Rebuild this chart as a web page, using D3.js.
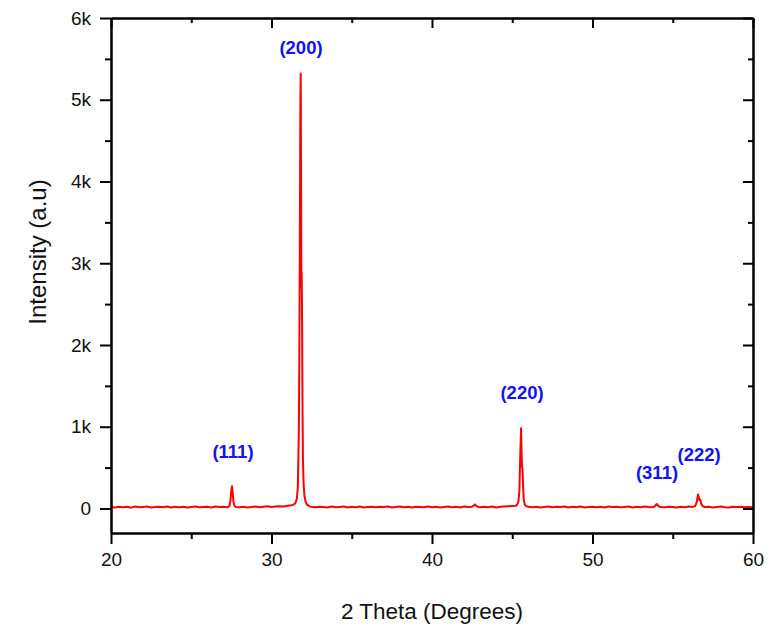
<!DOCTYPE html>
<html>
<head>
<meta charset="utf-8">
<script src="https://cdn.jsdelivr.net/npm/d3@7/dist/d3.min.js"></script>
<style>
  html, body { margin: 0; padding: 0; background: #ffffff; }
  svg { display: block; }
  text { font-family: "Liberation Sans", Arial, Helvetica, sans-serif; }
</style>
</head>
<body>
<svg id="chart" width="775" height="630"></svg>
<script>
// ---- data ----
const twoTheta = [
  20,20.25,20.5,20.75,21,21.25,21.5,21.75,22,22.25,22.5,22.75,23,23.25,23.5,23.75,24,24.25,24.5,24.75,
  25,25.25,25.5,25.75,26,26.25,26.5,26.75,27,27.25,
  27.3,27.38,27.44,27.5,27.54,27.58,27.63,27.7,27.8,
  28,28.25,28.5,28.75,29,29.25,29.5,29.75,30,30.25,30.5,30.75,31,31.25,
  31.4,31.5,31.58,31.64,31.7,31.73,31.76,31.8,31.82,31.84,31.86,31.88,31.9,31.93,31.96,32,32.05,32.12,32.2,32.3,32.4,
  32.5,32.75,33,33.25,33.5,33.75,34,34.25,34.5,34.75,35,35.25,35.5,35.75,36,36.25,36.5,36.75,37,37.25,
  37.5,37.75,38,38.25,38.5,38.75,39,39.25,39.5,39.75,40,40.25,40.5,40.75,41,41.25,41.5,41.75,42,42.25,
  42.5,42.6,42.68,42.76,42.9,
  43,43.25,43.5,43.75,44,44.25,44.5,44.75,45,
  45.2,45.3,45.38,45.44,45.5,45.55,45.58,45.61,45.64,45.68,45.72,45.78,45.85,46,
  46.25,46.5,46.75,47,47.25,47.5,47.75,48,48.25,48.5,48.75,49,49.25,49.5,49.75,50,50.25,50.5,50.75,51,
  51.25,51.5,51.75,52,52.25,52.5,52.75,53,53.25,53.5,53.75,
  53.9,54,54.08,54.2,
  54.5,54.75,55,55.25,55.5,55.75,56,56.25,
  56.4,56.5,56.57,56.62,56.67,56.72,56.77,56.85,57,
  57.25,57.5,57.75,58,58.25,58.5,58.75,59,59.25,59.5,59.75,60
];
const intensity = [
  18,12,22,15,20,10,25,14,19,23,12,17,21,15,24,11,20,16,22,13,
  19,25,14,18,21,12,23,17,20,15,
  18,30,90,230,272,200,80,30,17,
  16,22,13,19,24,15,20,26,18,23,28,25,32,40,
  50,70,120,260,900,1700,3000,5000,5320,4200,2700,2890,2500,1300,600,300,160,85,50,35,25,
  20,14,22,17,11,24,15,19,23,13,20,16,25,12,18,22,14,21,17,24,
  13,19,23,15,20,11,22,18,14,25,16,21,12,19,23,15,20,13,24,17,
  22,35,50,30,18,
  14,21,16,24,12,20,25,28,30,
  32,45,80,200,650,980,700,510,480,250,100,50,30,20,
  15,22,12,19,24,14,20,17,23,11,21,16,25,13,18,22,15,20,12,24,
  17,21,14,19,23,12,20,16,24,18,15,
  30,55,35,18,
  14,22,17,12,21,16,24,19,
  30,80,170,140,100,110,60,30,18,
  21,13,19,24,15,11,20,17,22,14,18,12
];
const xTicks = [20, 30, 40, 50, 60];
const xMinorTicks = [25, 35, 45, 55];
const yTicks = [0, 1000, 2000, 3000, 4000, 5000, 6000];
const yTickLabels = ["0", "1k", "2k", "3k", "4k", "5k", "6k"];
const yMinorTicks = [500, 1500, 2500, 3500, 4500, 5500];
const peakLabels = ["(111)", "(200)", "(220)", "(311)", "(222)"];
const peakLabelX = [27.6, 31.84, 45.61, 54.02, 56.64];
const peakLabelY = [697, 5645, 1418, 440, 660];

// ---- layout ----
const svg = d3.select("#chart");
const margin = { left: 111, right: 22, top: 18, bottom: 97 };
const W = 775, H = 630;
const x = d3.scaleLinear().domain([20, 60]).range([margin.left, W - margin.right]);
const y = d3.scaleLinear().domain([-300, 6000]).range([H - margin.bottom, margin.top]);

svg.append("rect").attr("width", W).attr("height", H).attr("fill", "#ffffff");

// line
const pts = twoTheta.map((t, i) => [t, intensity[i]]);
const line = d3.line().x(d => x(d[0])).y(d => y(d[1]));
svg.append("path")
  .datum(pts)
  .attr("d", line)
  .attr("fill", "none")
  .attr("stroke", "#ff0000")
  .attr("stroke-width", 2)
  .attr("stroke-linejoin", "round");

// axes
function styleAxis(g) {
  g.selectAll(".domain").attr("stroke", "#000").attr("stroke-width", 2);
  g.selectAll(".tick line").attr("stroke", "#000").attr("stroke-width", 2);
  g.selectAll(".tick text").attr("fill", "#111").style("font-size", "19px")
    .style("font-family", '"Liberation Sans", Arial, sans-serif');
}
const yBottom = y.range()[0], yTop = y.range()[1];
const xLeft = x.range()[0], xRight = x.range()[1];

// bottom
svg.append("g").attr("transform", `translate(0,${yBottom})`)
  .call(d3.axisBottom(x).tickValues(xTicks).tickFormat(d3.format("d")).tickSize(11).tickSizeOuter(0).tickPadding(9))
  .call(styleAxis);
svg.append("g").attr("transform", `translate(0,${yBottom})`)
  .call(d3.axisBottom(x).tickValues(xMinorTicks).tickFormat("").tickSize(6).tickSizeOuter(0))
  .call(styleAxis);
// top (inward)
svg.append("g").attr("transform", `translate(0,${yTop})`)
  .call(d3.axisTop(x).tickValues(xTicks).tickFormat("").tickSize(-10).tickSizeOuter(0))
  .call(styleAxis);
svg.append("g").attr("transform", `translate(0,${yTop})`)
  .call(d3.axisTop(x).tickValues(xMinorTicks).tickFormat("").tickSize(-5).tickSizeOuter(0))
  .call(styleAxis);
// left
svg.append("g").attr("transform", `translate(${xLeft},0)`)
  .call(d3.axisLeft(y).tickValues(yTicks).tickFormat((d, i) => yTickLabels[i]).tickSize(11).tickSizeOuter(0).tickPadding(9))
  .call(styleAxis);
svg.append("g").attr("transform", `translate(${xLeft},0)`)
  .call(d3.axisLeft(y).tickValues(yMinorTicks).tickFormat("").tickSize(6).tickSizeOuter(0))
  .call(styleAxis);
// right (inward)
svg.append("g").attr("transform", `translate(${xRight},0)`)
  .call(d3.axisRight(y).tickValues(yTicks).tickFormat("").tickSize(-10).tickSizeOuter(0))
  .call(styleAxis);
svg.append("g").attr("transform", `translate(${xRight},0)`)
  .call(d3.axisRight(y).tickValues(yMinorTicks).tickFormat("").tickSize(-5).tickSizeOuter(0))
  .call(styleAxis);

// peak labels
svg.append("g").selectAll("text")
  .data(peakLabels)
  .join("text")
  .attr("x", (d, i) => x(peakLabelX[i]))
  .attr("y", (d, i) => y(peakLabelY[i]))
  .attr("text-anchor", "middle")
  .attr("dominant-baseline", "central")
  .attr("fill", "#1212f2")
  .style("font-size", "18.5px")
  .style("font-weight", "bold")
  .text(d => d);

// axis titles
svg.append("text")
  .attr("x", (xLeft + xRight) / 2)
  .attr("y", 611)
  .attr("text-anchor", "middle")
  .attr("dominant-baseline", "central")
  .attr("fill", "#111")
  .style("font-size", "22.5px")
  .text("2 Theta (Degrees)");
svg.append("text")
  .attr("transform", `translate(37,252) rotate(-90)`)
  .attr("text-anchor", "middle")
  .attr("dominant-baseline", "central")
  .attr("fill", "#111")
  .style("font-size", "24px")
  .text("Intensity (a.u)");
</script>
</body>
</html>
